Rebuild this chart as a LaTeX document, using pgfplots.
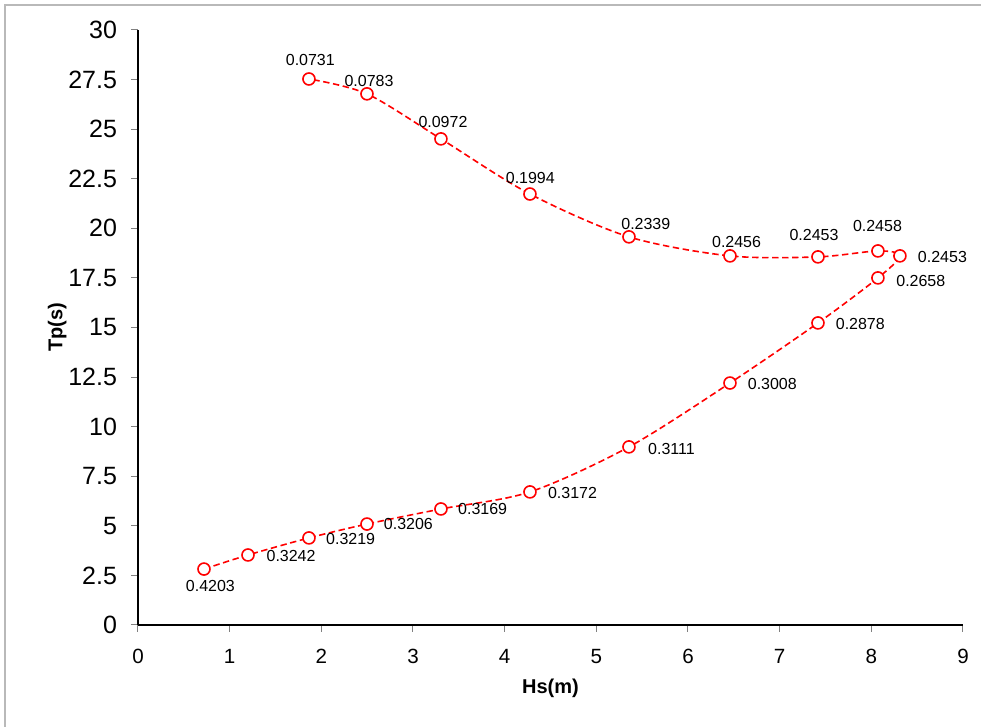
\documentclass[border=0pt]{standalone}
\usepackage{pgfplots}
\pgfplotsset{compat=1.18}
\usepackage{fontspec}
\setmainfont{Liberation Sans}
\begin{document}
\begin{tikzpicture}
\useasboundingbox (-69pt,-51pt) rectangle (421.5pt,312.5pt);
\draw[gray!55, line width=1pt] (-66.5pt,-52pt) -- (-66.5pt,310pt) -- (422pt,310pt);
\begin{axis}[
  at={(0,0)}, anchor=south west,
  scale only axis, width=412.5pt, height=297.5pt,
  xmin=0, xmax=9, ymin=0, ymax=30,
  axis x line*=bottom, axis y line*=left,
  axis line style={-, black, line width=0.75pt},
  xtick={0,1,2,3,4,5,6,7,8,9},
  ytick={0,2.5,5,7.5,10,12.5,15,17.5,20,22.5,25,27.5,30},
  tick align=outside, major tick length=3.5pt,
  tick style={gray, line width=0.5pt},
  /pgf/number format/assume math mode=true,
  yticklabel style={font=\fontsize{12.5}{13}\selectfont, xshift=-3.5pt},
  xticklabel style={font=\fontsize{10.3}{12}\selectfont, yshift=-5pt},
  xlabel={\textbf{Hs(m)}}, ylabel={\textbf{Tp(s)}},
  xlabel style={at={(axis description cs:0.5,-0.106)}, anchor=center, font=\fontsize{10}{12}\selectfont},
  ylabel style={at={(axis description cs:-0.098,0.5)}, anchor=center, font=\fontsize{10}{12}\selectfont},
  clip=false,
]
\addplot[red, line width=0.8pt, dash pattern=on 3.2pt off 1.8pt, smooth,
  mark=*, mark size=3pt, mark options={solid, fill=white, draw=red}]
  table {
x y
0.720 2.82
1.200 3.53
1.865 4.39
2.498 5.09
3.305 5.85
4.276 6.71
5.356 8.98
6.458 12.20
7.418 15.23
8.072 17.50
8.312 18.61
8.072 18.86
7.418 18.56
6.458 18.61
5.356 19.57
4.276 21.73
3.305 24.51
2.498 26.78
1.865 27.53
};
\begin{scope}[every node/.style={font=\fontsize{8}{9}\selectfont, inner sep=0pt}]
\node at (axis cs:1.88,28.49) {0.0731};
\node at (axis cs:2.52,27.43) {0.0783};
\node at (axis cs:3.327,25.34) {0.0972};
\node at (axis cs:4.28,22.54) {0.1994};
\node at (axis cs:5.54,20.22) {0.2339};
\node at (axis cs:6.53,19.31) {0.2456};
\node at (axis cs:7.375,19.67) {0.2453};
\node at (axis cs:8.067,20.12) {0.2458};
\node at (axis cs:8.776,18.53) {0.2453};
\node at (axis cs:8.54,17.35) {0.2658};
\node at (axis cs:7.88,15.18) {0.2878};
\node at (axis cs:6.92,12.15) {0.3008};
\node at (axis cs:5.82,8.88) {0.3111};
\node at (axis cs:4.74,6.68) {0.3172};
\node at (axis cs:3.76,5.85) {0.3169};
\node at (axis cs:2.95,5.09) {0.3206};
\node at (axis cs:2.32,4.34) {0.3219};
\node at (axis cs:1.67,3.50) {0.3242};
\node at (axis cs:0.79,1.97) {0.4203};
\end{scope}
\end{axis}
\end{tikzpicture}
\end{document}
